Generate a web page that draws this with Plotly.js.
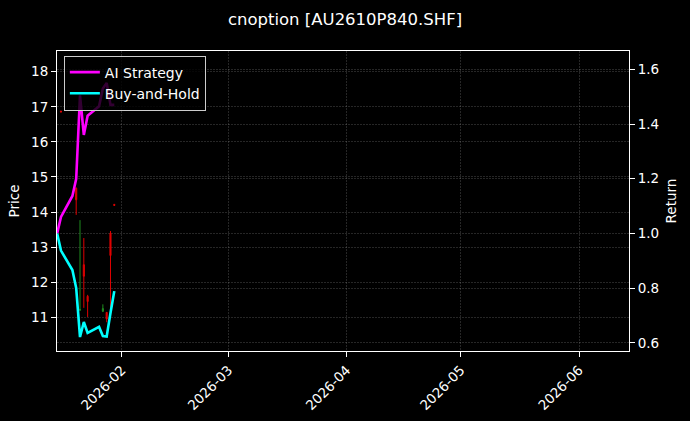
<!DOCTYPE html>
<html>
<head>
<meta charset="utf-8">
<script src="https://cdn.plot.ly/plotly-3.0.1.min.js"></script>
<style>
  html, body { margin: 0; padding: 0; background: #000; }
  #chart { width: 690px; height: 421px; }
</style>
</head>
<body>
<div id="chart"></div>
<script>
// trading days shown
var dates = ['2026-01-15', '2026-01-16', '2026-01-19', '2026-01-20', '2026-01-21', '2026-01-22',
             '2026-01-23', '2026-01-26', '2026-01-27', '2026-01-28', '2026-01-29', '2026-01-30'];

// option price candles (null = no trade drawn)
var openP  = [null, 16.88, null, 14.68, 11.20, 12.50, 11.60, null, 11.17, 11.14, 13.40, 14.22];
var highP  = [null, 16.88, null, 14.70, 13.77, 13.26, 11.64, null, 11.37, 11.15, 13.46, 14.22];
var lowP   = [null, 16.85, null, 13.92, 11.20, 11.27, 11.01, null, 11.15, 10.86, 11.09, 14.19];
var closeP = [null, 16.85, null, 14.35, 11.22, 12.17, 11.45, null, 11.25, 10.95, 12.76, 14.19];

// cumulative returns
var aiStrategy = [1.0, 1.06, 1.137, 1.20, 1.505, 1.36, 1.43, 1.465, 1.53, 1.55, 1.47, 1.47];
var buyHold    = [1.0, 0.937, 0.866, 0.80, 0.621, 0.676, 0.636, 0.658, 0.625, 0.623, 0.709, 0.789];

var monthTicks  = ['2026-02-01', '2026-03-01', '2026-04-01', '2026-05-01', '2026-06-01'];
var monthLabels = ['2026-02', '2026-03', '2026-04', '2026-05', '2026-06'];

var FONT = "'DejaVu Sans', 'Liberation Sans', sans-serif";
var gridCol = 'rgba(255,255,255,0.3)';

var data = [
  {
    type: 'candlestick',
    x: dates, open: openP, high: highP, low: lowP, close: closeP,
    xaxis: 'x', yaxis: 'y',
    increasing: { line: { color: '#1f8a1f', width: 1 }, fillcolor: '#1f8a1f' },
    decreasing: { line: { color: '#e00000', width: 1 }, fillcolor: '#e00000' },
    whiskerwidth: 0,
    showlegend: false,
    hoverinfo: 'skip'
  },
  {
    type: 'scatter', mode: 'lines',
    x: dates, y: aiStrategy,
    name: 'AI Strategy',
    yaxis: 'y2',
    line: { color: '#ff00ff', width: 2.6 }
  },
  {
    type: 'scatter', mode: 'lines',
    x: dates, y: buyHold,
    name: 'Buy-and-Hold',
    yaxis: 'y2',
    line: { color: '#00ffff', width: 2.6 }
  }
];

var layout = {
  width: 690,
  height: 421,
  paper_bgcolor: '#000',
  plot_bgcolor: '#000',
  font: { family: FONT, color: '#fff', size: 13 },
  margin: { l: 57, r: 61, t: 51, b: 70 },
  title: { text: 'cnoption [AU2610P840.SHF]', x: 0.5, xanchor: 'center', y: 0.955, yanchor: 'middle',
           font: { family: FONT, size: 16.5, color: '#fff' } },
  boxgap: 0.6,
  xaxis: {
    type: 'date',
    range: ['2026-01-14 23:00', '2026-06-14 03:00'],
    rangeslider: { visible: false },
    tickvals: monthTicks,
    ticktext: monthLabels,
    tickangle: -45,
    ticks: 'outside', ticklen: 5, tickcolor: '#fff', tickwidth: 1,
    showline: true, linecolor: '#fff', linewidth: 1, mirror: true,
    showgrid: true, gridcolor: gridCol, gridwidth: 0.5, griddash: '2px,1px',
    zeroline: false,
    tickfont: { family: FONT, size: 13.5, color: '#fff' }
  },
  yaxis: {
    range: [10.04, 18.59],
    dtick: 1,
    ticks: 'outside', ticklen: 5, tickcolor: '#fff',
    showline: true, linecolor: '#fff', linewidth: 1,
    showgrid: true, gridcolor: gridCol, gridwidth: 0.5, griddash: '2px,1px',
    zeroline: false,
    title: { text: 'Price', font: { family: FONT, size: 13.5, color: '#fff' }, standoff: 8 },
    tickfont: { family: FONT, size: 13.5, color: '#fff' }
  },
  yaxis2: {
    overlaying: 'y',
    side: 'right',
    range: [0.570, 1.667],
    tick0: 0.6, dtick: 0.2, tickformat: '.1f',
    ticks: 'outside', ticklen: 5, tickcolor: '#fff',
    showline: true, linecolor: '#fff', linewidth: 1,
    showgrid: true, gridcolor: gridCol, gridwidth: 0.5, griddash: '2px,1px',
    zeroline: false,
    title: { text: 'Return', font: { family: FONT, size: 13.5, color: '#fff' }, standoff: 8 },
    tickfont: { family: FONT, size: 13.5, color: '#fff' }
  },
  legend: {
    x: 0.012, y: 0.985, xanchor: 'left', yanchor: 'top',
    bgcolor: 'rgba(0,0,0,0.8)',
    bordercolor: '#cccccc', borderwidth: 1,
    font: { family: FONT, size: 14, color: '#fff' },
    tracegroupgap: 0
  },
  showlegend: true
};

Plotly.newPlot('chart', data, layout, { displayModeBar: false, staticPlot: true });
</script>
</body>
</html>
